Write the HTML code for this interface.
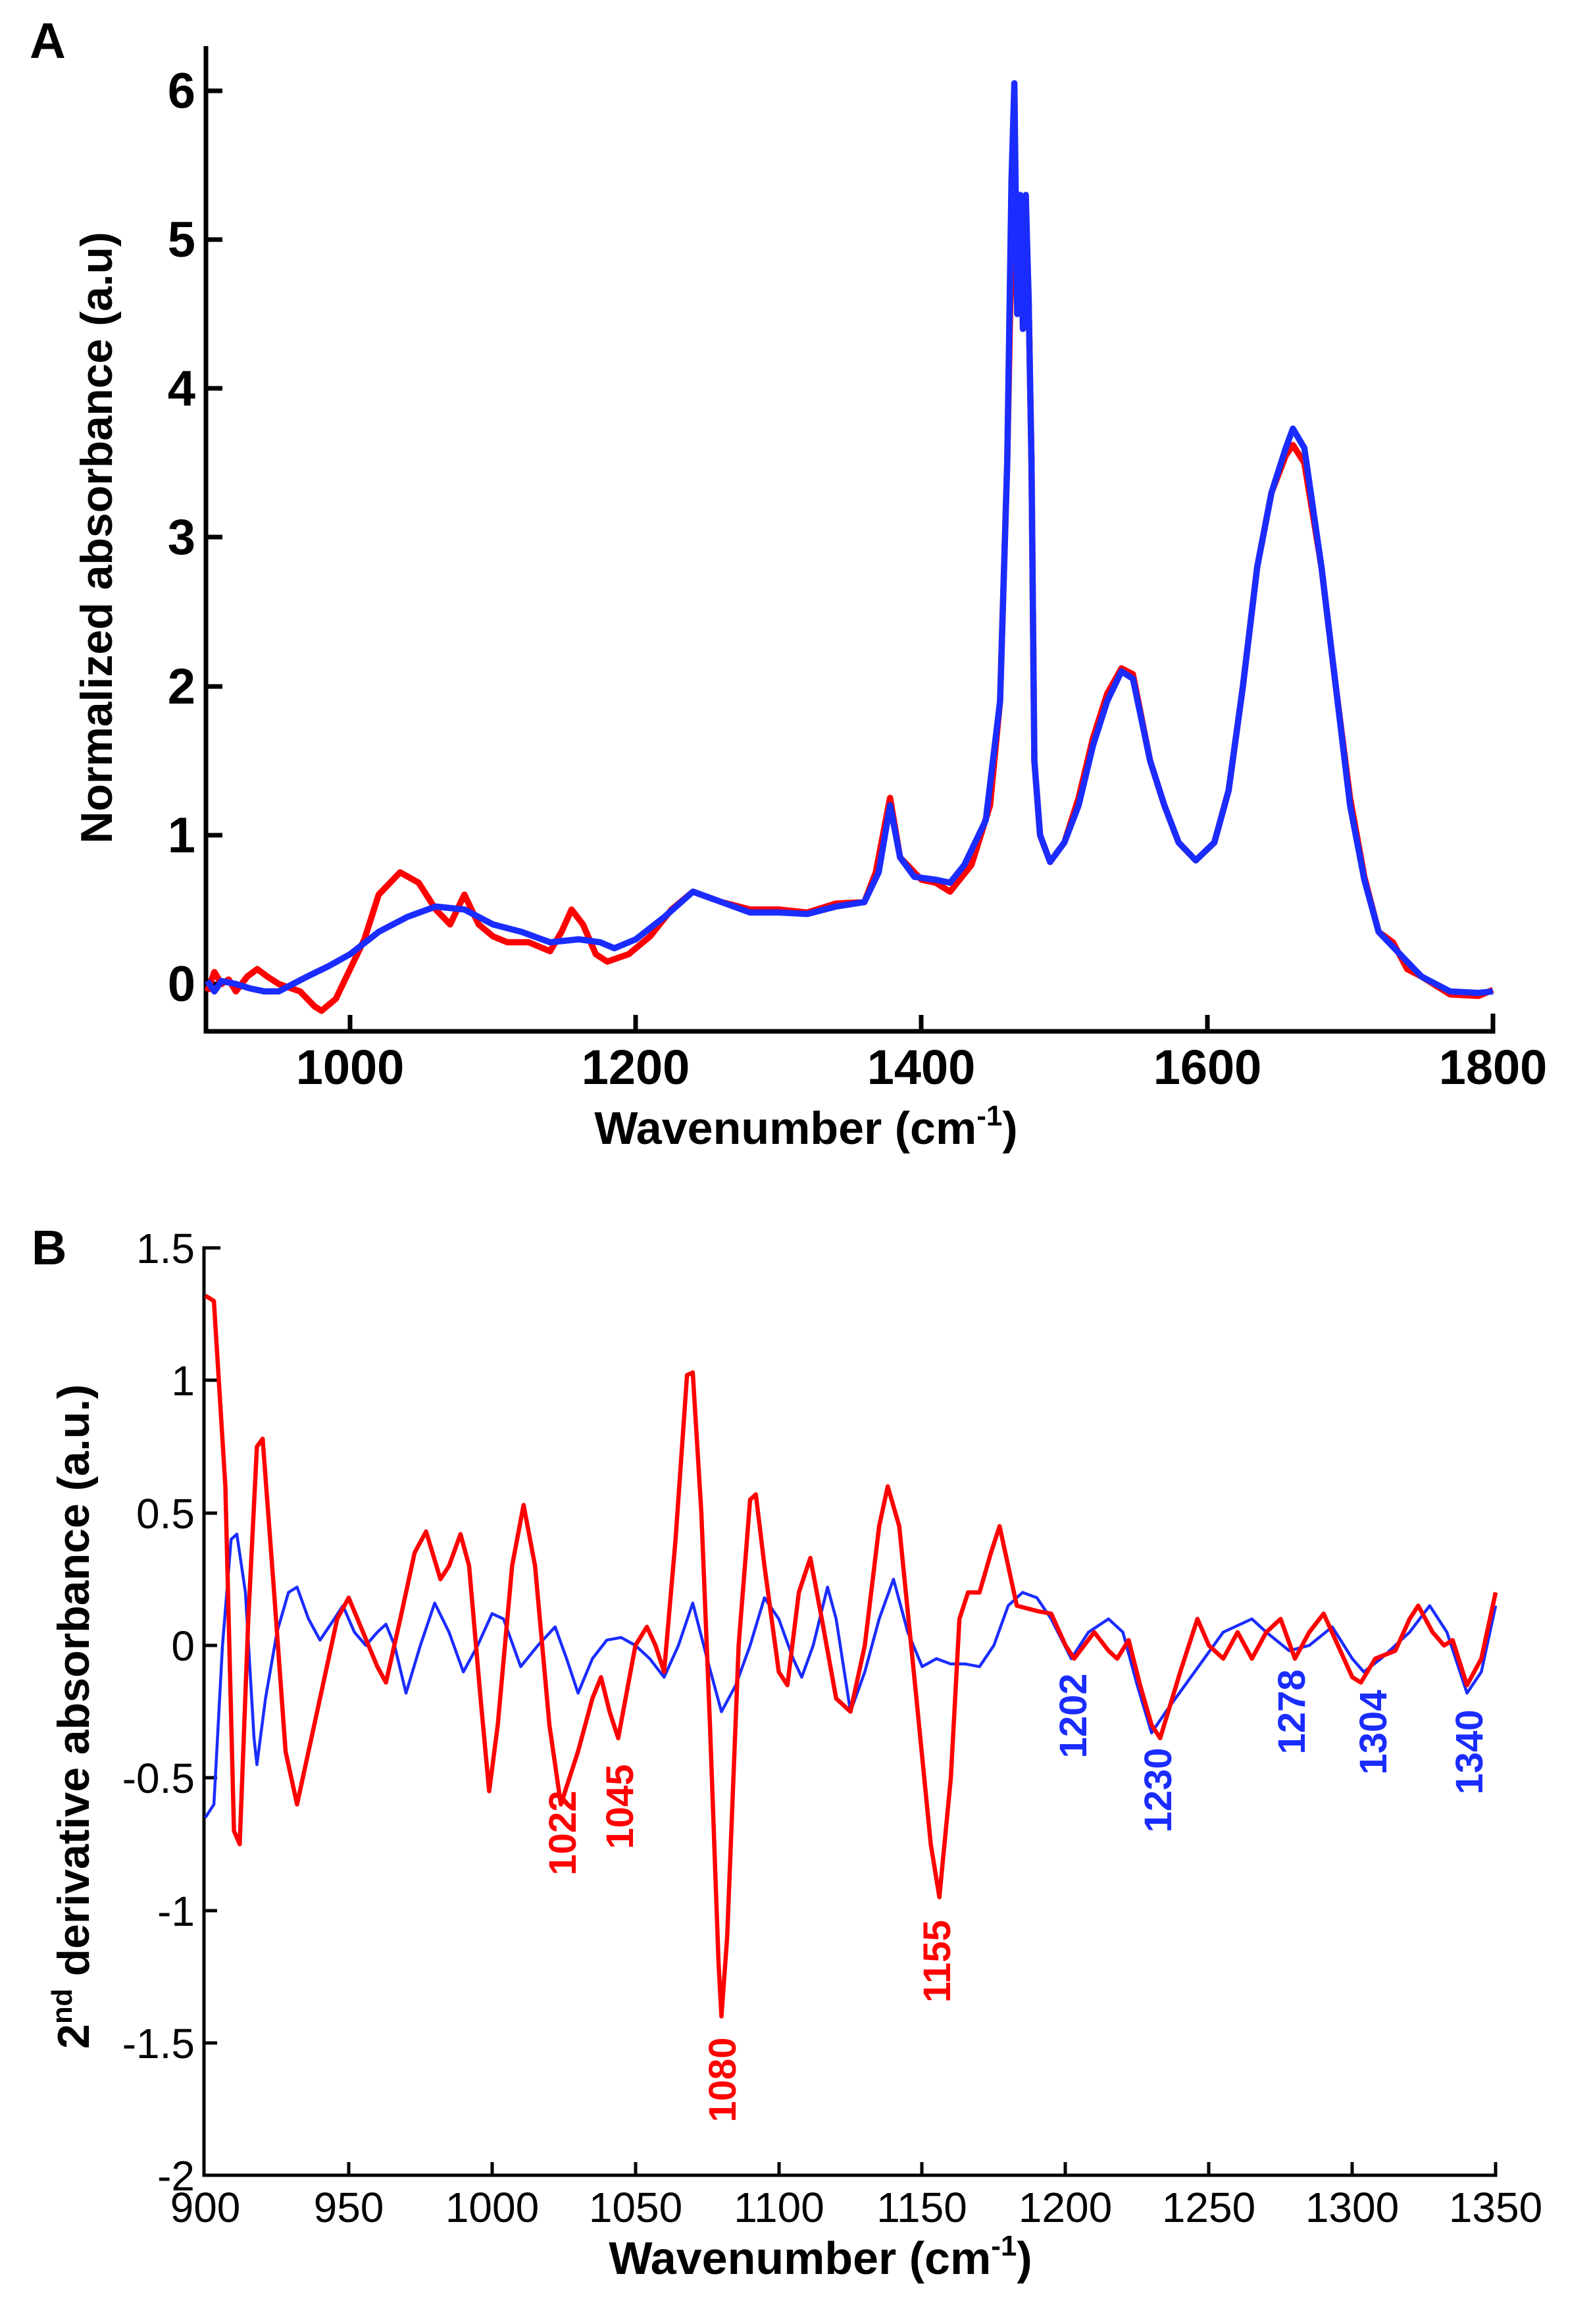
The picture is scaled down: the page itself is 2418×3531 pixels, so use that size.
<!DOCTYPE html>
<html><head><meta charset="utf-8">
<style>
html,body{margin:0;padding:0;background:#fff;}
svg{display:block;}
text{font-family:"Liberation Sans",Arial,sans-serif;}
</style></head>
<body>
<svg width="2418" height="3531" viewBox="0 0 2418 3531" xmlns="http://www.w3.org/2000/svg">
<rect width="2418" height="3531" fill="#fff"/>

<!-- ===== Panel A ===== -->
<text x="45" y="88" font-size="76" font-weight="bold">A</text>
<g stroke="#000" stroke-width="7" fill="none">
  <polyline points="313,70 313,1567 2269,1567 2269,1540"/>
  <line x1="313" y1="138" x2="338" y2="138"/>
  <line x1="313" y1="364" x2="338" y2="364"/>
  <line x1="313" y1="590" x2="338" y2="590"/>
  <line x1="313" y1="816" x2="338" y2="816"/>
  <line x1="313" y1="1043" x2="338" y2="1043"/>
  <line x1="313" y1="1269" x2="338" y2="1269"/>
  <line x1="313" y1="1495" x2="338" y2="1495"/>
  <line x1="532" y1="1567" x2="532" y2="1542"/>
  <line x1="966" y1="1567" x2="966" y2="1542"/>
  <line x1="1400" y1="1567" x2="1400" y2="1542"/>
  <line x1="1835" y1="1567" x2="1835" y2="1542"/>
</g>
<g font-size="76" font-weight="bold" text-anchor="end">
  <text x="297" y="164">6</text>
  <text x="297" y="390">5</text>
  <text x="297" y="616">4</text>
  <text x="297" y="842">3</text>
  <text x="297" y="1069">2</text>
  <text x="297" y="1295">1</text>
  <text x="297" y="1521">0</text>
</g>
<g font-size="74" font-weight="bold" text-anchor="middle">
  <text x="532" y="1647">1000</text>
  <text x="966" y="1647">1200</text>
  <text x="1400" y="1647">1400</text>
  <text x="1835" y="1647">1600</text>
  <text x="2269" y="1647">1800</text>
</g>
<text x="1225" y="1738" font-size="70" font-weight="bold" text-anchor="middle">Wavenumber (cm<tspan font-size="44" dy="-28">-1</tspan><tspan dy="28">)</tspan></text>
<text transform="translate(170,817) rotate(-90)" font-size="68" font-weight="bold" text-anchor="middle">Normalized absorbance (a.u)</text>

<g transform="matrix(2.171 0 0 -226.2 -1638.9 1495)" fill="none" stroke-linejoin="round">
  <polyline vector-effect="non-scaling-stroke" stroke="#ff0000" stroke-width="9.5" points="900,-0.05 905,0.08 910,0.0 915,0.03 920,-0.05 928,0.05 935,0.1 942,0.05 950,0.0 965,-0.05 975,-0.15 980,-0.18 990,-0.1 1000,0.1 1010,0.3 1020,0.6 1035,0.75 1048,0.68 1060,0.5 1070,0.4 1080,0.6 1090,0.4 1100,0.32 1110,0.28 1125,0.28 1140,0.22 1148,0.35 1155,0.5 1163,0.4 1172,0.2 1180,0.15 1195,0.2 1210,0.32 1225,0.5 1240,0.62 1260,0.55 1280,0.5 1300,0.5 1320,0.48 1340,0.54 1360,0.55 1368,0.75 1378,1.25 1385,0.85 1400,0.7 1410,0.68 1420,0.62 1435,0.8 1448,1.2 1455,1.9 1460,3.5 1463,5.0 1465,5.3 1467,4.5 1469,5.2 1471,4.4 1473,5.2 1475,4.6 1477,3.5 1479,1.5 1483,1.0 1490,0.82 1500,0.95 1510,1.25 1520,1.65 1530,1.95 1540,2.12 1548,2.08 1560,1.5 1570,1.2 1580,0.95 1592,0.83 1605,0.95 1615,1.3 1625,2.0 1635,2.8 1645,3.3 1655,3.55 1660,3.62 1668,3.5 1680,2.8 1690,2.0 1700,1.25 1710,0.72 1720,0.35 1730,0.28 1740,0.1 1750,0.05 1770,-0.07 1790,-0.08 1800,-0.04"/>
  <polyline vector-effect="non-scaling-stroke" stroke="#1a2cff" stroke-width="9.5" points="900,0.02 905,-0.05 910,0.02 920,0.0 930,-0.03 940,-0.05 950,-0.05 960,0.0 970,0.05 985,0.12 1000,0.2 1020,0.35 1040,0.45 1060,0.52 1080,0.5 1100,0.4 1120,0.35 1140,0.28 1160,0.3 1175,0.28 1185,0.24 1200,0.3 1220,0.45 1240,0.62 1260,0.55 1280,0.48 1300,0.48 1320,0.47 1340,0.52 1360,0.55 1370,0.75 1378,1.2 1385,0.85 1395,0.72 1410,0.7 1420,0.68 1430,0.8 1445,1.1 1455,1.9 1460,3.5 1463,5.4 1465,6.05 1467,4.5 1469,5.3 1471,4.4 1473,5.3 1475,4.6 1477,3.5 1479,1.5 1483,1.0 1490,0.82 1500,0.95 1510,1.2 1520,1.6 1530,1.9 1540,2.1 1548,2.05 1560,1.5 1570,1.2 1580,0.95 1592,0.83 1605,0.95 1615,1.3 1625,2.0 1635,2.8 1645,3.3 1655,3.6 1660,3.73 1668,3.6 1680,2.8 1690,2.0 1700,1.2 1710,0.7 1720,0.35 1730,0.25 1750,0.05 1770,-0.05 1790,-0.06 1800,-0.05"/>
</g>

<!-- ===== Panel B ===== -->
<text x="48" y="1921" font-size="74" font-weight="bold">B</text>
<g stroke="#000" stroke-width="5" fill="none">
  <polyline points="335,1896 310,1896 310,3305 2273,3305 2273,3285"/>
  <line x1="310" y1="2097" x2="330" y2="2097"/>
  <line x1="310" y1="2299" x2="330" y2="2299"/>
  <line x1="310" y1="2500" x2="330" y2="2500"/>
  <line x1="310" y1="2701" x2="330" y2="2701"/>
  <line x1="310" y1="2903" x2="330" y2="2903"/>
  <line x1="310" y1="3104" x2="330" y2="3104"/>
  <line x1="530" y1="3305" x2="530" y2="3285"/>
  <line x1="748" y1="3305" x2="748" y2="3285"/>
  <line x1="966" y1="3305" x2="966" y2="3285"/>
  <line x1="1184" y1="3305" x2="1184" y2="3285"/>
  <line x1="1401" y1="3305" x2="1401" y2="3285"/>
  <line x1="1619" y1="3305" x2="1619" y2="3285"/>
  <line x1="1837" y1="3305" x2="1837" y2="3285"/>
  <line x1="2055" y1="3305" x2="2055" y2="3285"/>
</g>
<g font-size="64" text-anchor="end">
  <text x="296" y="1919">1.5</text>
  <text x="296" y="2120">1</text>
  <text x="296" y="2322">0.5</text>
  <text x="296" y="2523">0</text>
  <text x="296" y="2724">-0.5</text>
  <text x="296" y="2926">-1</text>
  <text x="296" y="3127">-1.5</text>
  <text x="296" y="3328">-2</text>
</g>
<g font-size="64" text-anchor="middle">
  <text x="312" y="3376">900</text>
  <text x="530" y="3376">950</text>
  <text x="748" y="3376">1000</text>
  <text x="966" y="3376">1050</text>
  <text x="1184" y="3376">1100</text>
  <text x="1401" y="3376">1150</text>
  <text x="1619" y="3376">1200</text>
  <text x="1837" y="3376">1250</text>
  <text x="2055" y="3376">1300</text>
  <text x="2273" y="3376">1350</text>
</g>
<text x="1247" y="3455" font-size="70" font-weight="bold" text-anchor="middle">Wavenumber (cm<tspan font-size="44" dy="-28">-1</tspan><tspan dy="28">)</tspan></text>
<text transform="translate(135,2608) rotate(-90)" font-size="68" font-weight="bold" text-anchor="middle">2<tspan font-size="44" dy="-26">nd</tspan><tspan dy="26"> derivative absorbance (a.u.)</tspan></text>

<g transform="matrix(4.358 0 0 -402.6 -3610.2 2500)" fill="none" stroke-linejoin="round">
  <polyline vector-effect="non-scaling-stroke" stroke="#1a2cff" stroke-width="4.5" points="900,-0.65 903,-0.6 906,0.0 909,0.4 911,0.42 914,0.2 917,-0.35 918,-0.45 921,-0.2 925,0.05 929,0.2 932,0.22 936,0.1 940,0.02 945,0.1 948,0.15 952,0.05 956,0.0 960,0.05 963,0.08 966,0.0 970,-0.18 975,0.0 980,0.16 985,0.05 990,-0.1 995,0.0 1000,0.12 1004,0.1 1010,-0.08 1016,0.0 1022,0.07 1026,-0.05 1030,-0.18 1035,-0.05 1040,0.02 1045,0.03 1050,0.0 1055,-0.05 1060,-0.12 1065,0.0 1070,0.16 1075,-0.05 1080,-0.25 1085,-0.15 1090,0.0 1095,0.18 1100,0.1 1105,-0.05 1108,-0.12 1112,0.0 1117,0.22 1120,0.1 1125,-0.25 1130,-0.1 1135,0.1 1140,0.25 1145,0.05 1150,-0.08 1155,-0.05 1160,-0.07 1165,-0.07 1170,-0.08 1175,0.0 1180,0.15 1185,0.2 1190,0.18 1195,0.1 1202,-0.05 1208,0.05 1215,0.1 1220,0.05 1225,-0.15 1230,-0.33 1235,-0.25 1245,-0.1 1255,0.05 1265,0.1 1270,0.05 1278,-0.02 1285,0.0 1293,0.07 1300,-0.05 1304,-0.1 1310,-0.05 1320,0.05 1327,0.15 1333,0.05 1340,-0.18 1345,-0.1 1350,0.15"/>
  <polyline vector-effect="non-scaling-stroke" stroke="#ff0000" stroke-width="6.5" points="900,1.32 903,1.3 907,0.6 910,-0.7 912,-0.75 915,0.1 918,0.75 920,0.78 924,0.2 928,-0.4 932,-0.6 940,-0.2 946,0.1 950,0.18 955,0.05 960,-0.08 963,-0.14 968,0.1 973,0.35 977,0.43 982,0.25 985,0.3 989,0.42 992,0.3 996,-0.2 999,-0.55 1002,-0.3 1007,0.3 1011,0.53 1015,0.3 1020,-0.3 1024,-0.6 1030,-0.4 1035,-0.2 1038,-0.12 1041,-0.25 1044,-0.35 1050,0.0 1054,0.07 1057,0.0 1060,-0.1 1064,0.4 1068,1.02 1070,1.03 1073,0.5 1076,-0.3 1079,-1.2 1080,-1.4 1082,-1.1 1086,0.0 1090,0.55 1092,0.57 1095,0.3 1100,-0.1 1103,-0.15 1107,0.2 1111,0.33 1115,0.1 1120,-0.2 1125,-0.25 1130,0.0 1135,0.45 1138,0.6 1142,0.45 1148,-0.2 1153,-0.75 1156,-0.95 1160,-0.5 1163,0.1 1166,0.2 1170,0.2 1174,0.35 1177,0.45 1180,0.3 1183,0.15 1190,0.13 1195,0.12 1200,0.0 1203,-0.05 1210,0.05 1215,-0.02 1218,-0.05 1222,0.02 1226,-0.15 1230,-0.3 1233,-0.35 1240,-0.1 1246,0.1 1250,0.0 1255,-0.05 1260,0.05 1265,-0.05 1270,0.05 1275,0.1 1280,-0.05 1285,0.05 1290,0.12 1295,0.0 1300,-0.12 1303,-0.14 1308,-0.05 1315,-0.02 1320,0.1 1323,0.15 1328,0.05 1332,0.0 1335,0.02 1340,-0.15 1345,-0.05 1350,0.2"/>
</g>

<g font-size="58" font-weight="bold" text-anchor="middle" fill="#ff0000">
  <text transform="translate(875,2785) rotate(-90)">1022</text>
  <text transform="translate(962,2745) rotate(-90)">1045</text>
  <text transform="translate(1118,3160) rotate(-90)">1080</text>
  <text transform="translate(1444,2980) rotate(-90)">1155</text>
</g>
<g font-size="58" font-weight="bold" text-anchor="middle" fill="#1a2cff">
  <text transform="translate(1651,2607) rotate(-90)">1202</text>
  <text transform="translate(1780,2720) rotate(-90)">1230</text>
  <text transform="translate(1983,2601) rotate(-90)">1278</text>
  <text transform="translate(2107,2632) rotate(-90)">1304</text>
  <text transform="translate(2253,2662) rotate(-90)">1340</text>
</g>
</svg>
</body></html>
